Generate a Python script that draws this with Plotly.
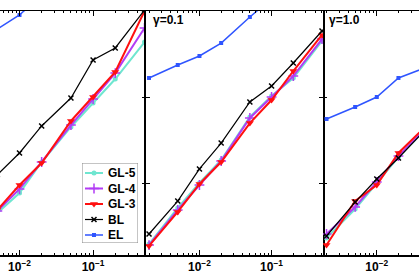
import plotly.graph_objects as go

# step sizes (x)
X = [0.002, 0.005, 0.01, 0.02, 0.05, 0.1, 0.2, 0.5]

# panel 1 (gamma = 0.01, partly cropped)
P1_GL5 = [2.23e-6, 2.01e-5, 5.85e-5, 3.08e-4, 2.01e-3, 7.25e-3, 2.62e-2, 0.190]
P1_GL4 = [2.48e-6, 2.23e-5, 7.25e-5, 3.08e-4, 2.23e-3, 8.98e-3, 3.61e-2, 0.402]
P1_GL3 = [2.77e-6, 2.36e-5, 8.97e-5, 2.92e-4, 2.77e-3, 1.00e-2, 3.81e-2, 1.00]
P1_BL = [2.5e-5, 1.55e-4, 4.99e-4, 2.12e-3, 9.48e-3, 7.24e-2, 0.138, 1.05]
P1_EL = [0.162, 0.381, 0.807, 2.36, 5.26, 8.98, 15.3, 26.2]

# panel 2 (gamma = 0.1)
P2_GL5 = [3.81e-6, 2.62e-5, 1.00e-4, 3.43e-4, 3.43e-3, 1.06e-2, 2.77e-2, 0.201]
P2_GL4 = [3.61e-6, 2.36e-5, 8.98e-5, 3.25e-4, 3.25e-3, 1.00e-2, 3.08e-2, 0.223]
P2_GL3 = [3.43e-6, 2.12e-5, 9.48e-5, 3.08e-4, 2.48e-3, 8.51e-3, 4.02e-2, 0.277]
P2_BL = [6.52e-6, 3.81e-5, 2.12e-4, 8.51e-4, 7.65e-3, 1.80e-2, 6.18e-2, 0.343]
P2_EL = [2.77e-2, 5.55e-2, 8.98e-2, 0.180, 0.725, 1.90, 5.26, 15.3]

# panel 3 (gamma = 1.0, partly cropped)
P3_GL5 = [5.26e-6, 2.48e-5, 1.00e-4, 4.02e-4, 1.90e-3, 8.51e-3, 3.25e-2, 0.153]
P3_GL4 = [6.52e-6, 2.77e-5, 1.06e-4, 4.25e-4, 2.01e-3, 8.98e-3, 3.43e-2, 0.171]
P3_GL3 = [3.61e-6, 3.81e-5, 8.98e-5, 4.99e-4, 2.23e-3, 1.00e-2, 3.81e-2, 0.190]
P3_BL = [5.85e-6, 3.61e-5, 1.24e-4, 3.81e-4, 1.90e-3, 8.51e-3, 3.25e-2, 0.162]
P3_EL = [3.08e-3, 5.85e-3, 1.00e-2, 2.77e-2, 4.99e-2, 0.124, 0.362, 1.38]

NAMES = ["GL-5", "GL-4", "GL-3", "BL", "EL"]
GAMMA_LABELS = ["γ=0.1", "γ=1.0"]
XTICKS = [0.01, 0.1]
XTICKTEXT = ["<b>10<sup>−2</sup></b>", "<b>10<sup>−1</sup></b>"]
XMINOR = [k * 10.0 ** e for e in (-3, -2, -1) for k in range(2, 10) if k * 10.0 ** e < 0.6]
YTICKS = [1e-4, 1e-2, 1.0]

STYLES = {
    "GL-5": dict(color="#6fe6d0", symbol="circle", size=5, width=2),
    "GL-4": dict(color="#b23cf5", symbol="cross-thin", size=7, width=2),
    "GL-3": dict(color="#ff1010", symbol="triangle-down", size=7, width=2),
    "BL": dict(color="#000000", symbol="x-thin", size=5, width=1.2),
    "EL": dict(color="#2f55ff", symbol="square", size=4, width=1.5),
}

panels = [
    [P1_GL5, P1_GL4, P1_GL3, P1_BL, P1_EL],
    [P2_GL5, P2_GL4, P2_GL3, P2_BL, P2_EL],
    [P3_GL5, P3_GL4, P3_GL3, P3_BL, P3_EL],
]

W, H = 419, 277
PLOT_TOP, PLOT_BOT = 11, 255
PH = PLOT_BOT - PLOT_TOP


def marker_for(s):
    mk = dict(symbol=s["symbol"], size=s["size"], color=s["color"])
    if "thin" in s["symbol"]:
        mk["line"] = dict(color=s["color"], width=1.5)
    return mk


fig = go.Figure()
for p, series in enumerate(panels):
    ax = "" if p == 0 else str(p + 1)
    for name, ys in zip(NAMES, series):
        s = STYLES[name]
        fig.add_trace(go.Scatter(
            x=X, y=ys, mode="lines+markers", name=name,
            line=dict(color=s["color"], width=s["width"]),
            marker=marker_for(s), showlegend=False,
            xaxis="x" + ax, yaxis="y" + ax,
        ))

# legend drawn in its own small pixel-unit axes (box 82..138 x 163..243)
LEG_BOX = (82, 138, 163, 243)
LEG_ROWS = [173, 188.5, 204, 219.5, 235]
for name, ry in zip(NAMES, LEG_ROWS):
    s = STYLES[name]
    fig.add_trace(go.Scatter(
        x=[85, 103], y=[ry, ry], mode="lines",
        line=dict(color=s["color"], width=s["width"]),
        showlegend=False, hoverinfo="skip", xaxis="x4", yaxis="y4",
    ))
    fig.add_trace(go.Scatter(
        x=[94], y=[ry], mode="markers", marker=marker_for(s),
        showlegend=False, hoverinfo="skip", xaxis="x4", yaxis="y4", cliponaxis=False,
    ))
    fig.add_annotation(
        text="<b>" + name + "</b>", xref="x4", yref="y4", x=106, y=ry,
        xanchor="left", yanchor="middle", showarrow=False,
        font=dict(family="Liberation Sans", size=12, color="black"),
    )
fig.add_shape(type="rect", xref="x4", yref="y4",
              x0=LEG_BOX[0], x1=LEG_BOX[1], y0=LEG_BOX[2], y1=LEG_BOX[3],
              line=dict(color="#8a8a8a", width=1), fillcolor="white", layer="below")

dom = [[0, 146 / W], [146 / W, 323 / W], [323 / W, 1]]
xr = [[-2.265, -0.281], [-2.741, -0.287], [-2.748, -1.413]]
font_b = dict(family="Liberation Sans", size=12, color="black", weight="bold")

layout = dict(
    width=W, height=H,
    margin=dict(l=0, r=0, t=PLOT_TOP, b=H - PLOT_BOT, pad=0),
    paper_bgcolor="white", plot_bgcolor="rgba(0,0,0,0)",
    showlegend=False,
)
for p in range(3):
    ax = "" if p == 0 else str(p + 1)
    layout["xaxis" + ax] = dict(
        type="log", domain=dom[p], range=xr[p], anchor="y" + ax,
        showgrid=False, zeroline=False, showline=True, linecolor="black", linewidth=1.5,
        mirror="allticks", ticks="inside", ticklen=5, tickcolor="black", tickwidth=1,
        tickmode="array", tickvals=XTICKS, ticktext=XTICKTEXT, tickfont=font_b,
        minor=dict(tickmode="array", tickvals=XMINOR, ticks="inside", ticklen=2,
                   tickcolor="black", tickwidth=1),
    )
    ycfg = dict(
        type="log", domain=[0, 1], range=[-PH / 43, 0], anchor="x" + ax,
        showgrid=False, zeroline=False, linecolor="black", linewidth=2,
        ticks="inside", ticklen=4, tickcolor="black", tickwidth=1,
        tickmode="array", tickvals=YTICKS, showticklabels=False,
    )
    if p == 0:
        ycfg.update(side="right", mirror=False, showline=False)
    elif p == 1:
        ycfg.update(mirror="ticks", showline=True)
    else:
        ycfg.update(side="left", mirror=False, showline=False)
    layout["yaxis" + ax] = ycfg

layout["xaxis4"] = dict(domain=[LEG_BOX[0] / W, LEG_BOX[1] / W], range=[LEG_BOX[0], LEG_BOX[1]],
                        anchor="y4", visible=False, fixedrange=True)
layout["yaxis4"] = dict(domain=[(PLOT_BOT - LEG_BOX[3]) / PH, (PLOT_BOT - LEG_BOX[2]) / PH],
                        range=[LEG_BOX[3], LEG_BOX[2]], anchor="x4", visible=False, fixedrange=True)

fig.update_layout(**layout)

for i, txt in enumerate(GAMMA_LABELS):
    fig.add_annotation(
        text="<b>" + txt + "</b>", xref="paper", yref="paper",
        x=(151 if i == 0 else 327) / W, y=(PLOT_BOT - 20) / PH,
        xanchor="left", yanchor="middle", showarrow=False,
        font=dict(family="Liberation Sans", size=12, color="black"),
    )

fig.write_html(
    "out.html",
    config={"displayModeBar": False, "staticPlot": True},
    post_script="document.body.style.margin='0';document.body.style.padding='0';"
                "document.body.style.overflow='hidden';",
)
